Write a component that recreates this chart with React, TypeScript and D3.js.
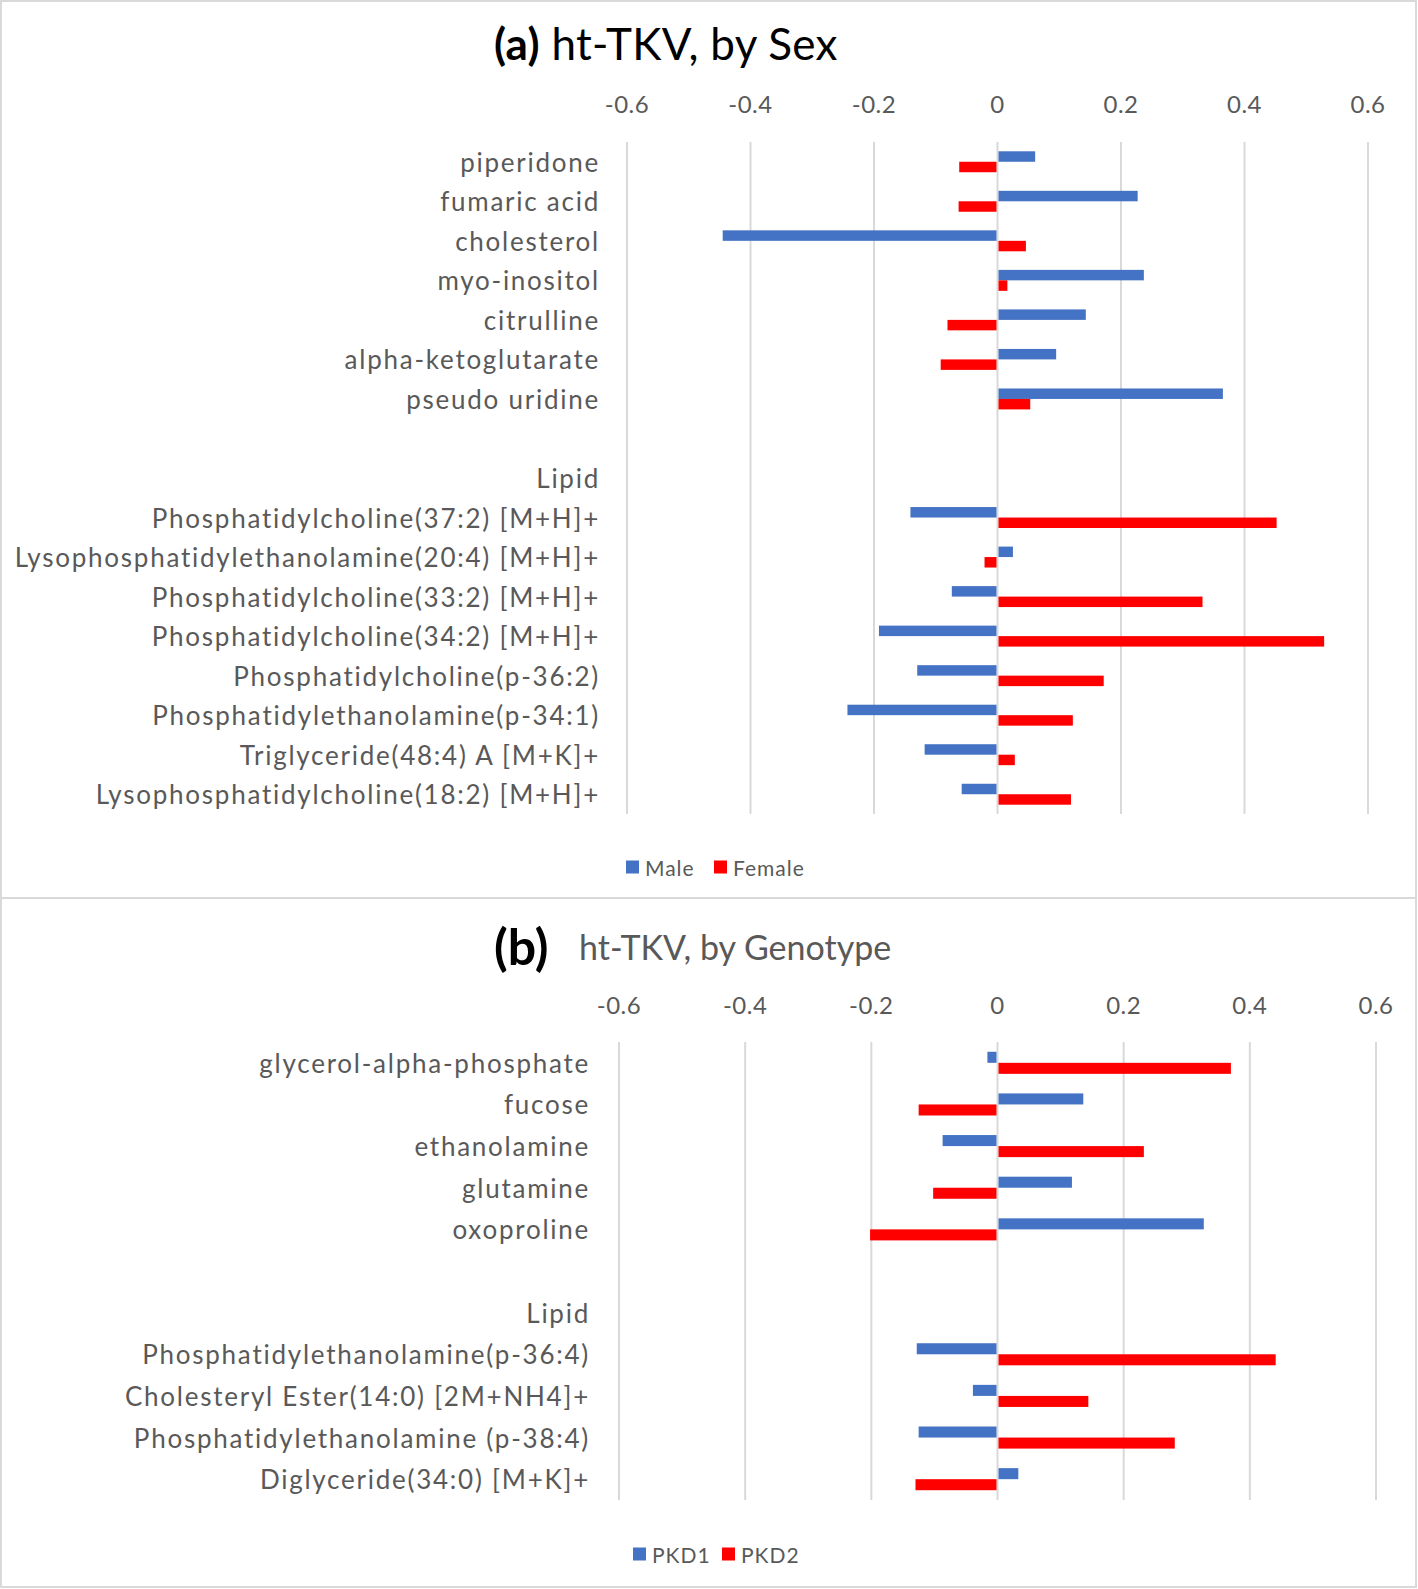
import React from "react";
import * as d3 from "d3";

const sexCategories = [
  "piperidone",
  "fumaric acid",
  "cholesterol",
  "myo-inositol",
  "citrulline",
  "alpha-ketoglutarate",
  "pseudo uridine",
  "",
  "Lipid",
  "Phosphatidylcholine(37:2) [M+H]+",
  "Lysophosphatidylethanolamine(20:4) [M+H]+",
  "Phosphatidylcholine(33:2) [M+H]+",
  "Phosphatidylcholine(34:2) [M+H]+",
  "Phosphatidylcholine(p-36:2)",
  "Phosphatidylethanolamine(p-34:1)",
  "Triglyceride(48:4) A [M+K]+",
  "Lysophosphatidylcholine(18:2) [M+H]+",
];
const maleValues = [0.061, 0.227, -0.445, 0.237, 0.143, 0.095, 0.365, null, null, -0.141, 0.025, -0.074, -0.192, -0.13, -0.243, -0.118, -0.058];
const femaleValues = [-0.062, -0.063, 0.046, 0.016, -0.081, -0.092, 0.053, null, null, 0.452, -0.021, 0.332, 0.529, 0.172, 0.122, 0.028, 0.119];

const genoCategories = [
  "glycerol-alpha-phosphate",
  "fucose",
  "ethanolamine",
  "glutamine",
  "oxoproline",
  "",
  "Lipid",
  "Phosphatidylethanolamine(p-36:4)",
  "Cholesteryl Ester(14:0) [2M+NH4]+",
  "Phosphatidylethanolamine (p-38:4)",
  "Diglyceride(34:0) [M+K]+",
];
const pkd1Values = [-0.016, 0.136, -0.087, 0.118, 0.327, null, null, -0.128, -0.039, -0.125, 0.033];
const pkd2Values = [0.37, -0.125, 0.232, -0.102, -0.202, null, null, 0.441, 0.144, 0.281, -0.13];

const tickValues = [-0.6, -0.4, -0.2, 0, 0.2, 0.4, 0.6];
const tickLabels = ["-0.6", "-0.4", "-0.2", "0", "0.2", "0.4", "0.6"];
const sexSeries = ["Male", "Female"];
const genoSeries = ["PKD1", "PKD2"];

const BLUE = "#4472C4";
const RED = "#FF0000";
const GRID = "#D9D9D9";
const TEXT = "#595959";
const FONT = "Lato, 'Open Sans', sans-serif";

type PanelProps = {
  categories: string[];
  s1: (number | null)[];
  s2: (number | null)[];
  names: string[];
  xRange: [number, number];
  yRange: [number, number];
  labelX: number;
  tickY: number;
  legendX: number[];
  legendY: number;
  labelSize: number;
};

function Panel(p: PanelProps) {
  const x = d3.scaleLinear().domain([-0.6, 0.6]).range(p.xRange);
  const y = d3
    .scaleBand<number>()
    .domain(p.categories.map((_, i) => i))
    .range(p.yRange)
    .padding(0);
  const bw = y.bandwidth();
  const barH = bw * 0.265;
  const bar = (v: number | null, i: number, k: number, color: string) => {
    if (v == null) return null;
    const c = (y(i) as number) + bw / 2;
    const y0 = k === 0 ? c - barH : c;
    const x0 = x(Math.min(0, v));
    const x1 = x(Math.max(0, v));
    return (
      <rect
        key={`b${k}-${i}`}
        x={v >= 0 ? x0 + 1 : x0}
        y={y0}
        width={Math.max(0, x1 - x0 - 1)}
        height={barH}
        fill={color}
      />
    );
  };
  return (
    <g fontFamily={FONT}>
      {tickValues.map((t) => (
        <line
          key={`g${t}`}
          x1={x(t)}
          x2={x(t)}
          y1={p.yRange[0]}
          y2={p.yRange[1]}
          stroke={GRID}
          strokeWidth={2}
        />
      ))}
      {tickValues.map((t, i) => (
        <text
          key={`t${t}`}
          x={x(t)}
          y={p.tickY}
          textAnchor="middle"
          dominantBaseline="central"
          fontSize={24}
          letterSpacing={0.5}
          fill={TEXT}
        >
          {tickLabels[i]}
        </text>
      ))}
      {p.categories.map((c, i) => (
        <text
          key={`c${i}`}
          x={p.labelX}
          y={(y(i) as number) + bw / 2}
          textAnchor="end"
          dominantBaseline="central"
          fontSize={p.labelSize}
          letterSpacing={1.75}
          fill={TEXT}
        >
          {c}
        </text>
      ))}
      {p.s1.map((v, i) => bar(v, i, 0, BLUE))}
      {p.s2.map((v, i) => bar(v, i, 1, RED))}
      {p.names.map((n, k) => (
        <g key={`l${k}`}>
          <rect
            x={p.legendX[k]}
            y={p.legendY - 6.5}
            width={13}
            height={13}
            fill={k === 0 ? BLUE : RED}
          />
          <text
            x={p.legendX[k] + 19}
            y={p.legendY}
            dominantBaseline="central"
            fontSize={21}
            letterSpacing={1}
            fill={TEXT}
          >
            {n}
          </text>
        </g>
      ))}
    </g>
  );
}

export default function App() {
  const W = 1418;
  const H = 1589;
  return (
    <svg
      width={W}
      height={H}
      style={{ position: "absolute", left: 0, top: 0, background: "#fff" }}
    >
      <rect x={0} y={0} width={W} height={H} fill="#fff" />
      <rect x={1} y={1} width={W - 3} height={897} fill="none" stroke={GRID} strokeWidth={2} />
      <rect x={1} y={898} width={W - 3} height={H - 900} fill="none" stroke={GRID} strokeWidth={2} />

      <text x={494} y={43} dominantBaseline="central" fontFamily={FONT} fontSize={44} letterSpacing={0.3} fill="#000">
        <tspan fontWeight="bold">(a)</tspan>
        <tspan> ht-TKV, by Sex</tspan>
      </text>
      <Panel
        categories={sexCategories}
        s1={maleValues}
        s2={femaleValues}
        names={sexSeries}
        xRange={[627, 1368]}
        yRange={[142, 814]}
        labelX={600}
        tickY={103}
        legendX={[626, 714]}
        legendY={867}
        labelSize={26}
      />

      <text x={494} y={946} dominantBaseline="central" fontFamily={FONT} fontSize={50} fontWeight="bold" fill="#000">
        (b)
      </text>
      <text x={579} y={946} dominantBaseline="central" fontFamily={FONT} fontSize={34} fill={TEXT}>
        ht-TKV, by Genotype
      </text>
      <Panel
        categories={genoCategories}
        s1={pkd1Values}
        s2={pkd2Values}
        names={genoSeries}
        xRange={[619, 1376]}
        yRange={[1042, 1500]}
        labelX={590}
        tickY={1004}
        legendX={[633, 722]}
        legendY={1554}
        labelSize={26}
      />
    </svg>
  );
}
